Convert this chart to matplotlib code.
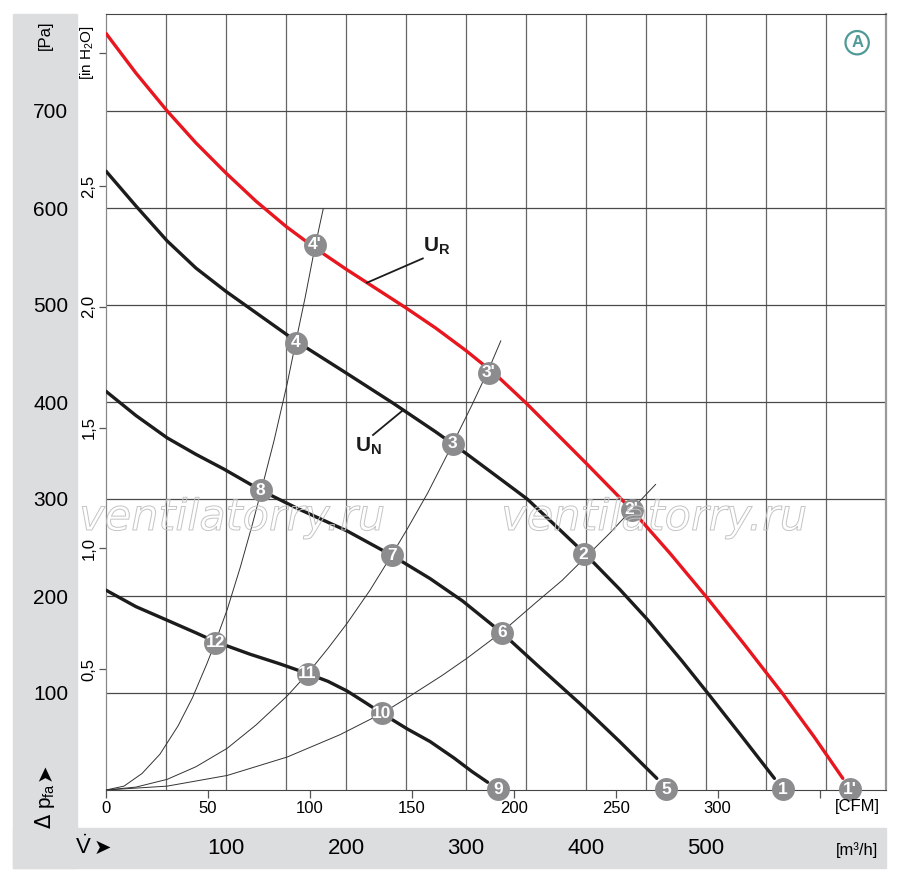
import matplotlib
matplotlib.use("Agg")
import matplotlib.pyplot as plt
import matplotlib.patheffects as pe
import matplotlib.transforms as mtrans
from matplotlib.patches import Rectangle

plt.rcParams['font.family'] = ['Liberation Sans Narrow', 'Liberation Sans', 'DejaVu Sans']

# ------------------------------
# Data (flow in m3/h, pressure in Pa)
# ------------------------------
ur_q = [0, 25, 51, 75, 100, 125, 150, 175, 200, 225, 250, 275, 300, 325, 350, 375, 400,
        438, 470, 501, 532, 564, 590, 614]
ur_p = [780, 739, 700, 667, 636, 607, 581, 558, 537, 517, 497, 476, 453, 428, 399, 368, 337,
        289, 244, 198, 150, 99, 55, 12]

un_q = [0, 25, 51, 75, 100, 125, 158, 200, 239, 275, 300, 325, 351, 375, 398, 428, 451,
        480, 502, 530, 557]
un_p = [638, 602, 566, 538, 514, 492, 463, 430, 399, 369, 347, 324, 300, 272, 245, 207, 176,
        133, 99, 55, 12]

mid_q = [0, 25, 51, 75, 98, 129, 160, 201, 238, 270, 297, 330, 360, 395, 428, 459]
mid_p = [411, 386, 363, 346, 331, 309, 290, 267, 242, 218, 195, 162, 128, 89, 50, 12]

low_q = [0, 25, 51, 75, 91, 120, 145, 168, 185, 201, 215, 230, 251, 270, 290, 305, 318]
low_p = [206, 189, 175, 162, 153, 140, 130, 120, 112, 102, 91, 79, 63, 50, 33, 19, 8]

# system (resistance) curves
sysA_q = [0, 15, 30, 45, 60, 72, 84, 91, 101, 112, 122, 129, 140, 151, 158, 166, 174, 181]
sysA_p = [0, 4, 17, 37, 66, 95, 130, 152, 186, 230, 274, 307, 360, 419, 461, 508, 559, 599]
sysB_q = [0, 25, 51, 75, 101, 125, 151, 168, 185, 201, 220, 238, 251, 268, 289, 305, 319, 329]
sysB_p = [0, 3, 11, 24, 43, 67, 97, 120, 146, 172, 206, 242, 269, 306, 357, 397, 434, 463]
sysC_q = [0, 51, 101, 151, 195, 230, 251, 280, 301, 330, 359, 380, 398, 420, 438, 458]
sysC_p = [0, 4, 15, 34, 57, 79, 95, 118, 136, 163, 194, 216, 238, 265, 289, 315]

# operating points
pt_labels = ["1", "1'", "2", "2'", "3", "3'", "4", "4'", "5", "6", "7", "8", "9", "10", "11", "12"]
pt_q = [564, 620, 398, 438, 289, 319, 158, 174, 467, 330, 238, 129, 327, 230, 168, 91]
pt_p = [1, 1, 243, 289, 357, 430, 461, 562, 1, 162, 242, 309, 1, 79, 120, 152]

# axis ticks
pa_ticks = [100, 200, 300, 400, 500, 600, 700]
inh2o_ticks = [0.5, 1.0, 1.5, 2.0, 2.5, 3.05]
inh2o_labels = ["0,5", "1,0", "1,5", "2,0", "2,5", r"[in $\mathregular{H_2}$O]"]
cfm_ticks = [0, 50, 100, 150, 200, 250, 300, 350]
cfm_labels = ["0", "50", "100", "150", "200", "250", "300", ""]
m3h_labels = [100, 200, 300, 400, 500]

RED = "#e8161e"
BLACK = "#1c1c1c"
GRAY = "#8c8c8e"
BAND = "#dcdddf"
TEAL = "#4f9a96"

W, H = 900, 877


def fx(px):
    return px / W


def fy(py):
    return 1 - py / H


fig = plt.figure(figsize=(9, 8.77), dpi=100)

# gray bands (left and bottom)
fig.patches.append(Rectangle((fx(13), fy(868)), fx(77) - fx(13), fy(14) - fy(868),
                             transform=fig.transFigure, color=BAND, zorder=-1))
fig.patches.append(Rectangle((fx(13), fy(868)), fx(886) - fx(13), fy(828) - fy(868),
                             transform=fig.transFigure, color=BAND, zorder=-1))

ax = fig.add_axes([fx(106), fy(790), fx(886) - fx(106), fy(14) - fy(790)])
ax.set_xlim(0, 650)
ax.set_ylim(0, 800)

# grid / ticks
ax.set_xticks([c * 1.699 for c in cfm_ticks], cfm_labels)
ax.set_xticks(list(range(50, 650, 50)), minor=True)
ax.set_yticks(pa_ticks, [str(v) for v in pa_ticks])
ax.grid(axis='x', which='minor', color='#666666', lw=0.9)
ax.grid(axis='y', which='major', color='#4a4a4a', lw=0.9)
ax.tick_params(axis='x', which='major', length=6, width=0.9, color='#555555',
               labelsize=12, pad=2)
ax.tick_params(axis='x', which='minor', length=0)
ax.tick_params(axis='y', which='major', length=0, labelsize=15, pad=27)

for s in ['top', 'bottom']:
    ax.spines[s].set_color('#444444')
ax.spines['left'].set_color('#888888')
ax.spines['right'].set_color('#9a9a9a')
ax.spines['right'].set_linewidth(1.6)

# in H2O axis
sec = ax.secondary_yaxis('left', functions=(lambda p: p / 249.09, lambda i: i * 249.09))
sec.set_yticks(inh2o_ticks, inh2o_labels)
sec.tick_params(length=5, width=0.9, color='#555555', labelsize=12, pad=2)
for lab in sec.get_yticklabels():
    lab.set_rotation(90)
    lab.set_va('center')
sec.get_yticklabels()[-1].set_fontsize(11)
sec.spines['left'].set_color('#888888')

# watermark
for cx in [232, 654]:
    fig.text(fx(cx), fy(518), "ventilatorry.ru", fontsize=31, style='italic',
             family='DejaVu Sans', color='none', ha='center', va='center', zorder=1,
             path_effects=[pe.Stroke(linewidth=0.7, foreground='#c4c4c4')])

# system curves
for q, p in [(sysA_q, sysA_p), (sysB_q, sysB_p), (sysC_q, sysC_p)]:
    ax.plot(q, p, color='#333333', lw=0.7, zorder=3)

# fan curves
ax.plot(ur_q, ur_p, color=RED, lw=2.4, zorder=4, solid_capstyle='round', solid_joinstyle='round')
for q, p in [(un_q, un_p), (mid_q, mid_p), (low_q, low_p)]:
    ax.plot(q, p, color=BLACK, lw=2.4, zorder=4, solid_capstyle='round', solid_joinstyle='round')

# operating point markers
for lab, q, p in zip(pt_labels, pt_q, pt_p):
    ax.plot(q, p, 'o', ms=16.5, mfc=GRAY, mec='none', zorder=5, clip_on=False)
    ax.text(q, p, lab, color='white', fontsize=12.5, weight='bold',
            ha='center', va='center', zorder=6, clip_on=False)

# U_R / U_N labels with leader lines
ax.plot([217.5, 264], [523, 548], color=BLACK, lw=1.3, zorder=4)
ax.text(276, 560, r"$\mathregular{U_R}$", fontsize=15, weight='bold',
        ha='center', va='center', color=BLACK)
ax.plot([247, 222.5], [391, 366], color=BLACK, lw=1.3, zorder=4)
ax.text(219, 354, r"$\mathregular{U_N}$", fontsize=15, weight='bold',
        ha='center', va='center', color=BLACK)

# circled A
ax.text(0.963, 0.963, "A", transform=ax.transAxes, color=TEAL, fontsize=12,
        weight='bold', ha='center', va='center',
        bbox=dict(boxstyle='circle,pad=0.25', fc='white', ec=TEAL, lw=1.6))

# m3/h scale in bottom band
band_tr = mtrans.blended_transform_factory(ax.transData, fig.transFigure)
for v in m3h_labels:
    ax.text(v, fy(848), str(v), transform=band_tr, fontsize=16,
            ha='center', va='center', clip_on=False)

# other labels
fig.text(fx(45), fy(35), "[Pa]", rotation=90, fontsize=12, ha='center', va='center')
fig.text(fx(45), fy(806), r"$\Delta$ $\mathregular{p_{fa}}$", rotation=90, fontsize=15,
         ha='center', va='center')
fig.text(fx(45), fy(772), "➤", rotation=90, fontsize=15, family='DejaVu Sans',
         ha='center', va='center')
fig.text(fx(83), fy(847), r"$\mathregular{\dot{V}}$", fontsize=16, ha='center', va='center')
fig.text(fx(102), fy(848), "➤", fontsize=15, family='DejaVu Sans', ha='center', va='center')
fig.text(fx(857), fy(850), "[m³/h]", fontsize=12, ha='center', va='center')
fig.text(fx(857), fy(806), "[CFM]", fontsize=12, ha='center', va='center')

fig.savefig("out.png", dpi=100)
